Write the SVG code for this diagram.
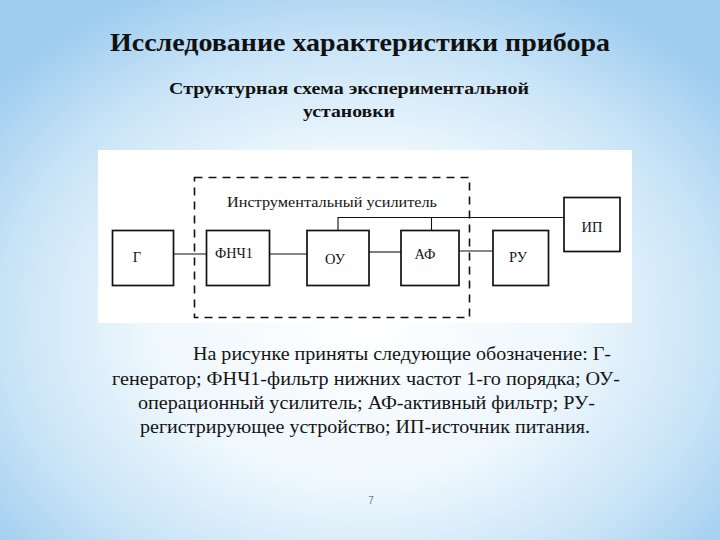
<svg xmlns="http://www.w3.org/2000/svg" width="720" height="540" viewBox="0 0 720 540">
  <defs>
    <radialGradient id="bg" cx="360" cy="320" r="470" gradientUnits="userSpaceOnUse" gradientTransform="translate(360 320) scale(1 0.78) translate(-360 -320)">
      <stop offset="0" stop-color="#ffffff"/>
      <stop offset="0.45" stop-color="#eef7fd"/>
      <stop offset="0.75" stop-color="#c9e4f7"/>
      <stop offset="1" stop-color="#9fcdef"/>
    </radialGradient>
    <style>
      .title { font-family: "Liberation Serif", "Times New Roman", serif; font-weight: bold; fill: #111; }
      .lbl { font-family: "Liberation Serif", "Times New Roman", serif; font-size: 14.5px; fill: #151515; text-anchor: middle; }
      .body { font-family: "Liberation Serif", "Times New Roman", serif; font-size: 19px; fill: #151515; }
      .box { fill: #ffffff; stroke: #111; stroke-width: 1.7; }
      .wire { fill: none; stroke: #111; stroke-width: 1.1; }
    </style>
  </defs>

  <rect x="0" y="0" width="720" height="540" fill="url(#bg)"/>

  <text class="title" x="360" y="51" font-size="25" text-anchor="middle" textLength="500" lengthAdjust="spacingAndGlyphs">Исследование характеристики прибора</text>
  <text class="title" x="349" y="94" font-size="17" text-anchor="middle" textLength="360" lengthAdjust="spacingAndGlyphs">Структурная схема экспериментальной</text>
  <text class="title" x="349" y="117" font-size="17" text-anchor="middle" textLength="92" lengthAdjust="spacingAndGlyphs">установки</text>

  <rect id="panel" x="98" y="150" width="534" height="173" fill="#ffffff"/>

  <g id="instrumental-amplifier">
    <rect x="194.5" y="177.5" width="275" height="140" fill="none" stroke="#111" stroke-width="1.6" stroke-dasharray="8 6"/>
    <text class="lbl" x="332" y="207" textLength="210" lengthAdjust="spacingAndGlyphs">Инструментальный усилитель</text>
  </g>

  <g id="connectors">
    <line class="wire" x1="173" y1="254" x2="206" y2="254"/>
    <line class="wire" x1="270" y1="254" x2="307" y2="254"/>
    <line class="wire" x1="369" y1="252" x2="401" y2="252" stroke-width="2"/>
    <line class="wire" x1="459" y1="251" x2="493" y2="251"/>
    <polyline class="wire" points="338,230 338,217.5 564,217.5"/>
    <line class="wire" x1="431.5" y1="217.5" x2="431.5" y2="230"/>
  </g>

  <g id="node-G">
    <rect class="box" x="112.5" y="230.5" width="61" height="55"/>
    <text class="lbl" x="137" y="262">Г</text>
  </g>
  <g id="node-FNCH1">
    <rect class="box" x="206.5" y="230.5" width="63" height="55"/>
    <text class="lbl" x="234" y="258" textLength="38" lengthAdjust="spacingAndGlyphs">ФНЧ1</text>
  </g>
  <g id="node-OU">
    <rect class="box" x="307" y="230.5" width="62" height="55"/>
    <text class="lbl" x="335" y="264">ОУ</text>
  </g>
  <g id="node-AF">
    <rect class="box" x="401" y="230.5" width="58" height="55"/>
    <text class="lbl" x="425" y="259">АФ</text>
  </g>
  <g id="node-RU">
    <rect class="box" x="493" y="230.5" width="55.5" height="55"/>
    <text class="lbl" x="518" y="262">РУ</text>
  </g>
  <g id="node-IP">
    <rect class="box" x="564" y="197.5" width="56" height="54" stroke-width="2"/>
    <text class="lbl" x="592" y="232">ИП</text>
  </g>

  <text class="body" x="193" y="360" textLength="418" lengthAdjust="spacingAndGlyphs">На рисунке приняты следующие обозначение: Г-</text>
  <text class="body" x="112" y="385" textLength="508" lengthAdjust="spacingAndGlyphs">генератор; ФНЧ1-фильтр нижних частот 1-го порядка; ОУ-</text>
  <text class="body" x="138" y="409" textLength="457" lengthAdjust="spacingAndGlyphs">операционный усилитель; АФ-активный фильтр; РУ-</text>
  <text class="body" x="140" y="433" textLength="450" lengthAdjust="spacingAndGlyphs">регистрирующее устройство; ИП-источник питания.</text>

  <text x="371" y="504" font-family="Liberation Sans, Arial, sans-serif" font-size="10" fill="#777" text-anchor="middle">7</text>
</svg>
